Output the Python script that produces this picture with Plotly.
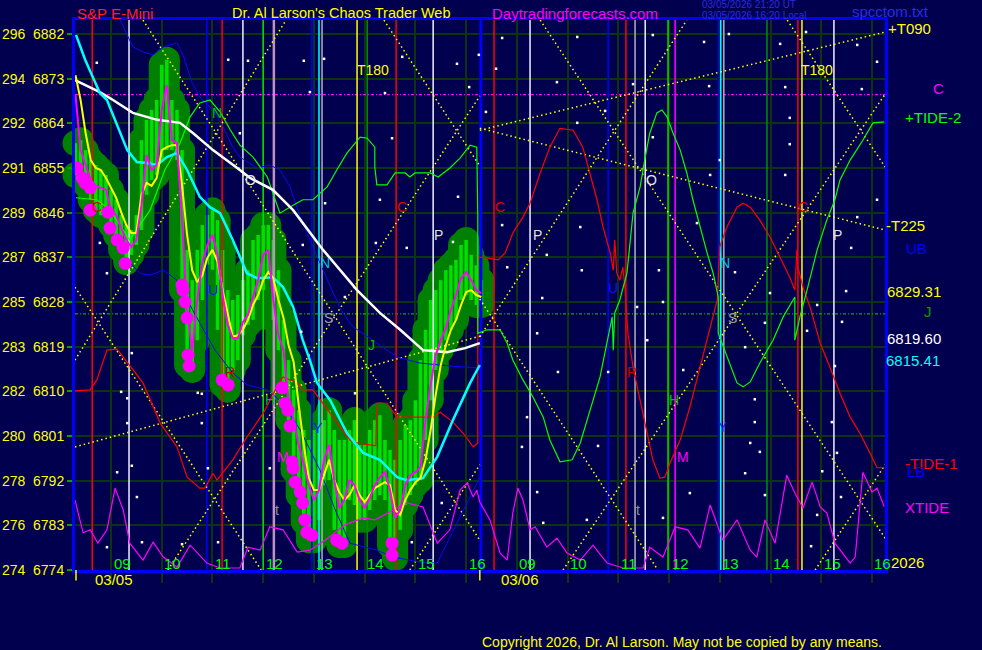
import plotly.graph_objects as go

FONT = "Liberation Sans, Arial, sans-serif"
BG = "#00004f"
GRID = "#0c3410"

# x = session hours: 0 = 09:00 on 03/05 ... 7 = 16:00 ; 8 = 09:00 on 03/06 ... 15 = 16:00
X_MIN, X_MAX = -0.71, 15.257
Y_MIN, Y_MAX = 6774.0, 6884.82

price_ticks = [6774, 6783, 6792, 6801, 6810, 6819, 6828, 6837, 6846, 6855, 6864, 6873, 6882]
alt_ticks = ["274", "276", "278", "280", "282", "283", "285", "287", "289", "291", "292", "294", "296"]
hour_ticks = [0, 1, 2, 3, 4, 5, 6, 7, 8, 9, 10, 11, 12, 13, 14, 15]
hour_labels = ["09", "10", "11", "12", "13", "14", "15", "16", "09", "10", "11", "12", "13", "14", "15", "16"]

# ---- 03/05 bars (every 6 minutes) ----
bar_t = [-0.7, -0.6, -0.5, -0.4, -0.3, -0.2, -0.1, 0.0, 0.1, 0.2, 0.3, 0.4, 0.5, 0.6, 0.7, 0.8, 0.9,
         1.0, 1.1, 1.2, 1.3, 1.4, 1.5, 1.6, 1.7, 1.8, 1.9, 2.0, 2.1, 2.2, 2.3, 2.4, 2.5, 2.6, 2.7, 2.8, 2.9,
         3.0, 3.1, 3.2, 3.3, 3.4, 3.5, 3.6, 3.7, 3.8, 3.9, 4.0, 4.1, 4.2, 4.3, 4.4, 4.5, 4.6, 4.7, 4.8, 4.9,
         5.0, 5.1, 5.2, 5.3, 5.4, 5.5, 5.6, 5.7, 5.8, 5.9, 6.0, 6.1, 6.2, 6.3, 6.4, 6.5, 6.6, 6.7, 6.8, 6.9,
         7.0, 7.1, 7.2, 7.3]
bar_close = [6869.7, 6858.6, 6855.6, 6852.6, 6851.4, 6851.0, 6850.6, 6846.5, 6845.5, 6842.9, 6840.5, 6839.1, 6840.5,
             6847.5, 6857.6, 6854.6, 6855.6, 6866.7, 6871.7, 6860.6, 6860.0, 6844.5, 6826.4, 6818.3, 6828.4, 6836.0,
             6839.5, 6841.5, 6837.5, 6829.4, 6823.4, 6820.7, 6820.7, 6824.0, 6825.4, 6829.0, 6832.4, 6837.5, 6838.5,
             6828.4, 6821.3, 6818.3, 6808.2, 6804.2, 6799.2, 6795.2, 6791.1, 6788.1, 6790.1, 6796.2, 6799.2, 6792.1,
             6786.5, 6788.1, 6792.1, 6791.1, 6788.1, 6786.5, 6788.5, 6791.1, 6792.7, 6793.7, 6790.1, 6784.5, 6786.1,
             6791.1, 6793.1, 6793.7, 6794.7, 6804.2, 6811.3, 6817.3, 6820.3, 6822.8, 6826.4, 6829.4, 6832.8, 6834.0,
             6832.4, 6830.4, 6829.8]
bar_high = [6860.0, 6860.6, 6858.6, 6856.6, 6855.6, 6854.6, 6853.6, 6850.6, 6848.6, 6845.5, 6843.5, 6842.5, 6845.5,
            6860.6, 6864.7, 6866.7, 6868.7, 6875.8, 6876.8, 6868.7, 6866.7, 6858.6, 6838.5, 6832.4, 6838.5, 6843.5,
            6845.5, 6846.5, 6844.5, 6838.5, 6830.4, 6828.4, 6829.4, 6832.4, 6834.4, 6840.5, 6841.5, 6843.5, 6843.5,
            6840.5, 6834.4, 6824.4, 6816.3, 6810.3, 6806.2, 6802.2, 6800.2, 6802.2, 6803.2, 6804.2, 6806.2, 6802.2,
            6800.2, 6800.2, 6802.2, 6804.2, 6799.2, 6799.2, 6802.2, 6804.2, 6805.2, 6800.2, 6798.2, 6796.2, 6800.2,
            6803.2, 6804.2, 6808.2, 6816.3, 6822.4, 6828.4, 6830.4, 6832.4, 6834.4, 6835.4, 6836.5, 6839.5, 6840.5,
            6837.5, 6835.4, 6832.4]
bar_low = [6853.6, 6853.6, 6851.6, 6848.6, 6846.5, 6845.5, 6845.5, 6843.5, 6841.5, 6838.5, 6836.0, 6837.5, 6839.5,
           6842.5, 6849.6, 6852.6, 6853.6, 6856.6, 6858.6, 6858.6, 6856.6, 6830.4, 6815.3, 6814.3, 6820.3, 6828.4,
           6835.5, 6834.5, 6822.4, 6811.3, 6810.3, 6814.3, 6816.3, 6821.3, 6823.4, 6824.4, 6828.4, 6830.4, 6833.4,
           6824.4, 6818.3, 6810.3, 6804.2, 6794.1, 6789.1, 6783.7, 6780.0, 6780.0, 6784.1, 6791.1, 6792.1, 6782.1,
           6779.0, 6779.0, 6788.1, 6787.1, 6784.1, 6784.1, 6786.1, 6788.1, 6789.1, 6788.1, 6779.0, 6776.4, 6782.1,
           6787.1, 6789.1, 6791.1, 6792.1, 6800.2, 6808.2, 6814.3, 6818.3, 6820.3, 6822.4, 6824.4, 6828.4, 6829.4,
           6828.4, 6827.4, 6827.4]
fast_ma = [6873.7, 6868.7, 6862.0, 6856.6, 6855.0, 6854.6, 6853.0, 6851.0, 6849.0, 6846.1, 6843.5, 6841.9, 6841.9,
           6849.6, 6852.0, 6851.4, 6853.0, 6858.6, 6859.2, 6859.6, 6859.6, 6851.6, 6841.5, 6834.4, 6832.0, 6833.4,
           6836.9, 6838.5, 6836.1, 6830.4, 6825.4, 6821.0, 6821.3, 6822.4, 6824.4, 6827.4, 6829.4, 6832.4, 6834.0,
           6832.8, 6828.4, 6824.8, 6819.3, 6815.9, 6807.2, 6799.2, 6792.5, 6790.1, 6790.1, 6793.1, 6796.2, 6792.1,
           6789.7, 6788.1, 6789.1, 6791.1, 6789.1, 6787.7, 6789.1, 6790.5, 6791.1, 6791.7, 6791.1, 6786.1, 6785.1,
           6788.1, 6790.1, 6791.7, 6792.5, 6796.2, 6802.2, 6809.3, 6815.3, 6819.3, 6822.4, 6824.4, 6827.4, 6830.0,
           6830.4, 6829.4, 6829.0]

# cyan and white averages
mid_t = [-0.69, -0.51, -0.22, -0.08, 0.32, 0.51, 0.71, 0.91, 1.10, 1.30, 1.50, 1.75, 1.95, 2.15, 2.40, 2.68, 2.88,
         3.19, 3.39, 3.59, 3.78, 3.92, 4.06, 4.32, 4.65, 4.97, 5.30, 5.64, 5.83, 6.15, 6.43, 6.74, 7.08, 7.27]
mid_ma = [6881.8, 6876.8, 6870.1, 6868.7, 6858.6, 6856.2, 6856.0, 6855.6, 6857.2, 6858.0, 6854.6, 6849.2, 6847.1,
          6845.9, 6840.5, 6833.8, 6832.8, 6833.0, 6831.0, 6827.0, 6820.3, 6816.3, 6811.7, 6808.2, 6801.6, 6797.6,
          6796.2, 6792.7, 6792.1, 6792.5, 6796.8, 6804.2, 6811.7, 6815.3]
slow_t = [-0.71, -0.22, 0.04, 0.43, 0.91, 1.36, 1.62, 2.01, 2.54, 2.74, 3.19, 3.59, 4.18, 4.85, 5.30, 5.70, 6.15,
          6.62, 6.98, 7.27]
slow_ma = [6872.7, 6870.3, 6868.7, 6866.1, 6864.7, 6864.1, 6862.0, 6858.6, 6854.6, 6853.0, 6850.6, 6846.5, 6838.5,
           6830.4, 6825.8, 6822.4, 6818.3, 6817.9, 6818.7, 6819.7]

# bands
ub_t = [0.18, 0.43, 0.63, 0.83, 1.03, 1.30, 1.42, 1.60, 1.75, 2.01, 2.21, 2.40, 2.54, 2.88, 3.13, 3.33, 3.53, 3.73,
        3.98, 4.18, 4.38, 4.57, 4.77, 5.16, 5.64, 6.09, 6.68, 7.27]
ub_p = [6884.8, 6879.4, 6878.4, 6877.8, 6879.4, 6880.2, 6877.8, 6872.1, 6869.3, 6866.7, 6863.3, 6859.2, 6857.2,
        6855.0, 6855.6, 6854.6, 6851.2, 6845.1, 6839.1, 6834.4, 6829.8, 6825.8, 6823.0, 6820.3, 6816.9, 6815.7,
        6815.1, 6814.7]
lb_t = [0.28, 0.37, 0.57, 0.77, 1.03, 1.30, 1.66, 2.05, 2.40, 2.68, 3.08, 3.39, 3.73, 4.12, 4.42, 4.71, 5.24, 5.56,
        6.09, 6.43, 6.82, 7.27]
lb_p = [6836.9, 6835.9, 6833.8, 6833.4, 6834.4, 6832.4, 6825.4, 6818.3, 6813.7, 6811.3, 6810.3, 6807.6, 6802.2,
        6794.1, 6786.1, 6779.4, 6778.0, 6776.6, 6775.6, 6775.4, 6783.5, 6792.7]

# tides
tide1_t = [-0.71, -0.41, -0.28, -0.08, 0.12, 0.43, 0.63, 0.97, 1.30, 1.50, 1.75, 1.85, 2.01, 2.09, 2.40, 2.68, 3.00,
           3.27, 3.39, 3.67, 3.78, 3.98, 4.38, 4.71, 4.85, 5.22, 5.24, 5.44, 5.64, 6.35, 6.49, 6.74, 6.94, 7.14, 7.23,
           7.23, 7.41, 7.63, 7.77, 7.92, 8.12, 8.26, 8.46, 8.65, 8.85, 9.11, 9.30, 9.44, 9.58, 9.70, 9.84, 9.90, 9.93,
           9.97, 10.03, 10.09, 10.13, 10.19, 10.29, 10.43, 10.57, 10.68, 10.82, 10.92, 11.02, 11.22, 11.41, 11.61,
           11.81, 11.95, 12.00, 12.14, 12.34, 12.46, 12.60, 12.79, 12.99, 13.19, 13.38, 13.48, 13.52, 13.54, 13.64,
           13.78, 13.98, 14.17, 14.37, 14.57, 14.76, 14.96, 15.10, 15.24]
tide1_p = [6810.1, 6810.3, 6812.3, 6818.3, 6818.5, 6814.3, 6811.7, 6803.6, 6798.8, 6792.7, 6790.5, 6790.5, 6793.5,
           6792.1, 6796.2, 6800.8, 6805.6, 6810.9, 6812.9, 6811.7, 6810.3, 6810.3, 6804.8, 6800.2, 6799.6, 6799.0,
           6807.6, 6807.6, 6804.8, 6804.8, 6805.8, 6803.8, 6801.6, 6798.8, 6799.6, 6837.1, 6836.9, 6836.5, 6837.9,
           6841.9, 6845.1, 6847.9, 6854.0, 6859.2, 6863.0, 6862.6, 6859.2, 6854.0, 6848.6, 6843.1, 6837.9, 6834.4,
           6840.5, 6833.8, 6832.4, 6835.0, 6831.0, 6821.7, 6814.9, 6808.2, 6801.6, 6796.2, 6792.5, 6792.7, 6795.6,
           6800.2, 6806.8, 6814.9, 6823.0, 6828.4, 6839.1, 6843.1, 6847.1, 6847.9, 6847.1, 6844.5, 6841.1, 6837.1,
           6833.0, 6830.4, 6838.5, 6835.0, 6831.0, 6827.0, 6819.7, 6814.9, 6809.6, 6804.8, 6801.6, 6797.6, 6794.6,
           6794.6]
tide2_t = [-0.69, -0.28, -0.02, 0.37, 0.77, 1.06, 1.36, 1.56, 1.75, 1.95, 2.15, 2.35, 2.54, 2.80, 3.08, 3.33, 3.59,
           3.78, 3.98, 4.26, 4.45, 4.65, 4.91, 5.05, 5.20, 5.20, 5.24, 5.44, 5.60, 5.80, 5.89, 5.99, 6.29, 6.45, 6.68,
           6.88, 7.08, 7.21, 7.23, 7.23, 7.41, 7.67, 7.81, 7.92, 8.12, 8.32, 8.52, 8.65, 8.85, 9.09, 9.25, 9.44, 9.64,
           9.80, 9.88, 9.90, 9.93, 10.03, 10.17, 10.29, 10.43, 10.53, 10.62, 10.76, 10.86, 10.96, 11.08, 11.22, 11.35,
           11.47, 11.61, 11.75, 11.87, 11.97, 11.97, 12.14, 12.34, 12.46, 12.60, 12.79, 13.05, 13.25, 13.48, 13.48,
           13.58, 13.72, 13.92, 14.11, 14.27, 14.37, 14.57, 14.82, 15.02, 15.24]
tide2_p = [6849.0, 6848.6, 6846.5, 6840.5, 6846.5, 6854.6, 6860.0, 6865.3, 6868.1, 6868.7, 6866.3, 6862.7, 6859.6,
           6857.2, 6853.2, 6845.9, 6847.5, 6848.6, 6848.6, 6851.2, 6854.6, 6858.0, 6861.2, 6861.0, 6859.2, 6855.2,
           6851.6, 6851.6, 6854.0, 6854.0, 6853.2, 6854.0, 6854.0, 6853.2, 6855.0, 6857.0, 6859.6, 6859.2, 6845.3,
           6821.7, 6822.4, 6822.4, 6819.7, 6816.3, 6812.3, 6808.8, 6804.8, 6800.2, 6795.8, 6796.2, 6799.6, 6806.2,
           6812.9, 6821.0, 6825.0, 6818.3, 6825.8, 6828.4, 6833.8, 6845.9, 6851.2, 6857.2, 6862.0, 6866.1, 6866.7,
           6865.3, 6862.0, 6858.6, 6854.0, 6848.6, 6843.1, 6837.9, 6833.8, 6829.0, 6821.7, 6816.9, 6811.7, 6810.9,
           6811.9, 6815.7, 6820.3, 6825.0, 6829.0, 6820.3, 6825.0, 6830.4, 6838.5, 6844.5, 6848.6, 6852.6, 6856.6,
           6860.6, 6864.1, 6864.3]
xtide_t = [-0.71, -0.55, -0.41, -0.26, -0.08, 0.08, 0.24, 0.37, 0.63, 0.83, 1.03, 1.30, 1.56, 1.89, 2.15, 2.54, 2.70,
           2.94, 3.13, 3.39, 3.67, 3.92, 4.22, 4.61, 4.97, 5.20, 5.83, 6.15, 6.43, 6.68, 6.88, 7.02, 7.14, 7.21, 7.27,
           7.47, 7.67, 7.81, 7.92, 8.02, 8.12, 8.26, 8.36, 8.59, 8.79, 8.99, 9.25, 9.50, 9.78, 10.09, 10.49, 10.62,
           10.88, 11.12, 11.37, 11.61, 11.81, 12.06, 12.34, 12.60, 12.73, 12.89, 13.09, 13.32, 13.48, 13.64, 13.82,
           13.98, 14.11, 14.27, 14.57, 14.67, 14.82, 15.00, 15.10, 15.24]
xtide_p = [6788.1, 6781.5, 6782.1, 6779.4, 6782.1, 6790.5, 6786.1, 6779.4, 6776.0, 6779.6, 6776.6, 6774.6, 6779.0,
           6775.4, 6774.4, 6774.4, 6778.6, 6778.0, 6782.7, 6782.1, 6777.6, 6778.0, 6780.0, 6783.1, 6784.5, 6784.1,
           6787.5, 6786.7, 6779.4, 6782.1, 6790.1, 6791.5, 6788.7, 6790.1, 6787.7, 6784.1, 6777.4, 6776.0, 6785.5,
           6790.5, 6788.1, 6782.1, 6782.7, 6778.6, 6780.4, 6777.4, 6776.0, 6779.0, 6775.4, 6774.4, 6774.4, 6778.6,
           6776.6, 6782.7, 6782.1, 6778.4, 6787.1, 6780.0, 6784.1, 6778.0, 6776.6, 6784.1, 6779.4, 6793.1, 6789.5,
           6786.5, 6791.7, 6786.7, 6785.5, 6779.4, 6775.4, 6776.6, 6793.7, 6789.7, 6790.5, 6786.8]

# big magenta dots
dot_t = [-0.67, -0.57, -0.51, -0.41, -0.41, -0.06, -0.02, 0.12, 0.24, 0.28, 1.40, 1.42, 1.46, 1.50, 1.52, 1.54,
         2.19, 2.31, 3.37, 3.43, 3.49, 3.53, 3.57, 3.59, 3.63, 3.73, 3.78, 3.82, 3.86, 3.96, 4.45, 4.55, 5.54, 5.54]
dot_p = [6855.0, 6853.0, 6852.0, 6851.0, 6846.5, 6846.1, 6842.9, 6840.5, 6838.9, 6835.8, 6831.4, 6830.4, 6828.0,
         6824.8, 6817.3, 6815.1, 6812.3, 6811.3, 6810.7, 6807.6, 6806.2, 6803.0, 6795.8, 6794.5, 6791.7, 6789.7,
         6787.5, 6784.1, 6781.6, 6781.0, 6780.0, 6779.4, 6779.4, 6777.0]

# dotted yellow angle lines (start time, start price, end time, end price)
ang_t0 = [-0.71, 0.63, -0.71, 1.12, 5.38, 5.89, -0.71, 7.27, 7.27, 8.46, 7.27, 7.27, 8.91, 13.33, 13.88]
ang_p0 = [6816.3, 6884.8, 6831.0, 6774.0, 6884.8, 6774.0, 6798.8, 6862.6, 6863.0, 6884.8, 6821.0, 6828.6, 6774.0,
          6884.8, 6774.0]
ang_t1 = [3.45, 7.27, 2.96, 7.27, 7.27, 7.27, 7.27, 15.26, 15.26, 15.26, 11.35, 10.78, 15.26, 15.26, 15.26]
ang_p1 = [6884.8, 6780.0, 6774.0, 6869.5, 6855.4, 6795.2, 6821.1, 6882.4, 6842.5, 6780.4, 6884.8, 6774.0, 6869.9,
          6855.2, 6795.2]
level_c = 6869.8
level_j = 6825.6

# vertical time lines
vl_red = [-0.37, 2.19, 5.62, 7.55, 10.15, 13.54]
vl_white = [0.355, 2.60, 6.35, 8.26, 10.53, 14.25]
vl_blue = [1.89, 3.96, 9.80, 11.97]
vl_green = [3.00, 10.98]
vl_dkgreen = [5.05, 12.93]
vl_cyan = [4.10, 12.02]
vl_grey = [4.16, 10.33, 12.08]
vl_violet = [3.21]
vl_magenta = [11.12]
vl_yellow = [4.85, 13.62]
day_break = 7.29

# small white stars
star_t = [-0.28, 2.31, 2.70, 3.80, 4.20, 5.74, 6.82, 7.25, 3.92, 5.40, 7.71, 7.59, 9.19, 8.79, 10.68, 11.69, 12.18,
          11.79, 13.19, 13.70, 14.71, 15.10, 13.29, 14.80, 4.22, 5.30, 5.54, 7.06, 6.84, 6.74, 5.83, 5.22, 3.78, 3.75,
          4.61, 7.39, 9.19, 9.74, 10.29, 10.68, 12.00, 11.81, 9.25, 8.59, 7.71, 7.81, 8.50, 9.28, 10.80, 10.88, 11.55,
          12.30, 8.40, 8.10, 8.20, 8.81, 9.80, 9.60, 9.38, 8.52, 11.28, 11.41, 10.88, 10.57, 10.37, 8.40, 14.71, 14.59,
          14.49, 13.92, 13.72, 14.41, 12.99, 12.89, 12.50, 14.27, 12.69, 12.69, 12.60, 12.79, 12.50, 12.89, 14.02,
          14.21, 14.31, 14.39, 13.92, 13.80, 13.38, 13.38, 13.29, 15.10, 0.41, 0.20, 0.32, 0.32, 0.51, 0.41, 0.12,
          -0.08, 0.61, 1.40, 1.71, 1.79, 1.79, 1.91, 2.11, -0.22, -0.08, 2.54, 3.13, 4.81, 5.93, 6.52]
star_p = [6876.2, 6876.8, 6876.6, 6876.6, 6877.0, 6877.4, 6876.0, 6877.8, 6870.3, 6870.1, 6881.2, 6875.0, 6881.4,
          6872.3, 6881.8, 6880.4, 6882.0, 6871.5, 6880.0, 6882.4, 6879.8, 6876.4, 6871.3, 6870.9, 6847.9, 6848.6,
          6861.0, 6871.3, 6849.2, 6840.1, 6838.9, 6839.9, 6839.5, 6822.0, 6829.0, 6866.3, 6864.1, 6866.5, 6871.9,
          6861.2, 6856.6, 6853.6, 6843.1, 6837.5, 6843.5, 6835.0, 6828.8, 6834.4, 6834.4, 6828.0, 6843.9, 6834.0,
          6789.7, 6798.8, 6804.8, 6813.9, 6813.9, 6799.0, 6784.1, 6783.5, 6814.3, 6789.5, 6784.5, 6820.3, 6827.0,
          6821.7, 6845.1, 6838.9, 6830.2, 6827.4, 6822.2, 6824.0, 6829.8, 6823.8, 6818.9, 6815.1, 6808.4, 6803.8,
          6799.6, 6797.8, 6793.5, 6789.1, 6793.9, 6803.8, 6797.6, 6788.7, 6785.1, 6778.8, 6865.1, 6859.8, 6853.6,
          6848.6, 6817.7, 6809.9, 6808.6, 6803.6, 6788.7, 6795.0, 6793.7, 6778.6, 6779.6, 6779.2, 6809.7, 6809.5,
          6803.6, 6794.5, 6779.6, 6839.9, 6833.8, 6862.0, 6794.5, 6809.6, 6779.6, 6787.5]

# chart-event letters: (text, time, price, colour)
event_labels = [
    ("T180", 5.16, 6874.7, "#ffff00"), ("T180", 13.92, 6874.7, "#ffff00"),
    ("N", 2.09, 6866.1, "#00c000"), ("N", 4.22, 6835.9, "#00c8c8"), ("N", 12.11, 6835.9, "#00c8c8"),
    ("O", 2.74, 6852.6, "#e8e8e8"), ("O", 10.66, 6852.6, "#e8e8e8"),
    ("S", 4.28, 6824.8, "#a0a0a0"), ("S", 12.26, 6824.8, "#a0a0a0"),
    ("J", 5.13, 6819.3, "#00c000"),
    ("P", 6.45, 6841.5, "#e0e0e0"), ("P", 8.40, 6841.5, "#e0e0e0"), ("P", 14.33, 6841.5, "#e0e0e0"),
    ("C", 5.74, 6847.1, "#e00000"), ("C", 7.67, 6847.1, "#e00000"), ("C", 13.64, 6847.1, "#e00000"),
    ("C", -0.28, 6847.1, "#e00000"),
    ("M", 3.39, 6796.8, "#ff00ff"), ("M", 11.28, 6796.8, "#ff00ff"),
    ("H", 3.13, 6808.2, "#00c000"), ("H", 11.10, 6808.2, "#00c000"),
    ("t", 3.27, 6786.1, "#909090"), ("t", 10.39, 6786.1, "#909090"),
    ("R", 2.35, 6813.9, "#c00000"), ("R", 10.27, 6813.9, "#c00000"),
    ("U", 2.01, 6830.4, "#1010ff"), ("U", 9.90, 6830.8, "#1010ff"),
    ("Y", 4.08, 6802.6, "#1010ff"), ("Y", 12.06, 6802.8, "#1010ff"),
]

# right-margin texts: (text, colour, left pixel, middle pixel)
right_labels = [
    ("+T090", "#ffff00", 886, 29), ("C", "#ff00ff", 931, 88), ("+TIDE-2", "#00ff00", 903, 117),
    ("-T225", "#ffff00", 884, 226), ("UB", "#0000ff", 904, 248), ("6829.31", "#ffff00", 885, 291),
    ("J", "#00a000", 922, 311), ("6819.60", "#ffffff", 885, 338), ("6815.41", "#00ffff", 884, 360),
    ("-TIDE-1", "#ff0000", 903, 463), ("LB", "#0000ff", 905, 471), ("XTIDE", "#ff00ff", 903, 507),
    ("2026", "#ffff00", 889, 562),
]

PL, PR, PT, PB = 75, 885, 20, 570


def px_x(px):
    return (px - PL) / (PR - PL)


def px_y(py):
    return (PB - py) / (PB - PT)


fig = go.Figure()


def add_line(x, y, color, width, dash=None, mode="lines"):
    fig.add_trace(go.Scatter(x=x, y=y, mode=mode, hoverinfo="skip", showlegend=False,
                             line=dict(color=color, width=width, dash=dash)))


def seg(t0, p0, t1, p1):
    xs, ys = [], []
    for a, b, c, d in zip(t0, p0, t1, p1):
        xs += [a, c, None]
        ys += [b, d, None]
    return xs, ys


def vlines(ts):
    xs, ys = [], []
    for t in ts:
        xs += [t, t, None]
        ys += [Y_MIN, Y_MAX, None]
    return xs, ys


# horizontal levels
add_line([X_MIN, X_MAX], [level_c, level_c], "#ff00ff", 1.3, "3px,2px,1px,2px")
add_line([X_MIN, X_MAX], [level_j, level_j], "#00b000", 1.3, "3px,2px,1px,2px")

# price blob (dark green halo) and bright bars
bx, by = seg(bar_t, bar_low, bar_t, bar_high)
add_line(bx, by, "#008000", 26)
fig.add_trace(go.Scatter(x=bar_t + bar_t, y=bar_low + bar_high, mode="markers", hoverinfo="skip",
                         showlegend=False, cliponaxis=False,
                         marker=dict(color="#008000", size=26, line=dict(width=0))))
add_line(bx, by, "#00e000", 3.5)

# vertical event lines
for ts, col, w in [(vl_red, "#ff0000", 1.5), (vl_white, "#f0f0ff", 1.5), (vl_blue, "#0000ff", 1.5),
                   (vl_green, "#00e000", 1.5), (vl_dkgreen, "#009000", 1.5), (vl_cyan, "#00ffff", 1.5),
                   (vl_grey, "#b0b0c0", 1.5), (vl_violet, "#c090c0", 2.5), (vl_magenta, "#ff00ff", 1.5),
                   (vl_yellow, "#ffff00", 1.5), ([day_break], "#0000ff", 3)]:
    vx, vy = vlines(ts)
    add_line(vx, vy, col, w)

# angle lines
ax_, ay_ = seg(ang_t0, ang_p0, ang_t1, ang_p1)
add_line(ax_, ay_, "#ffff00", 1.5, "1.5px,3px")

# bands and tides
add_line(ub_t, ub_p, "#0a0af0", 1)
add_line(lb_t, lb_p, "#0a0af0", 1)
add_line(tide1_t, tide1_p, "#ff0000", 1.2)
add_line(tide2_t, tide2_p, "#00ff00", 1.2)
add_line(xtide_t, xtide_p, "#ff00ff", 1.2)

# averages and price
add_line(slow_t, slow_ma, "#ffffff", 2.5)
add_line(mid_t, mid_ma, "#00ffff", 2.5)
add_line(bar_t, fast_ma, "#ffff00", 2)
add_line(bar_t, bar_close, "#ff00ff", 2)
fig.add_trace(go.Scatter(x=dot_t, y=dot_p, mode="markers", hoverinfo="skip", showlegend=False,
                         marker=dict(color="#ff00ff", size=13, line=dict(width=0))))
fig.add_trace(go.Scatter(x=star_t, y=star_p, mode="markers", hoverinfo="skip", showlegend=False,
                         marker=dict(color="#ffffff", size=2.5, symbol="square", line=dict(width=0))))

ann = []
for txt, t, p, col in event_labels:
    ann.append(dict(x=t, y=p, xref="x", yref="y", text=txt, showarrow=False,
                    font=dict(family=FONT, size=14, color=col)))
for h, lab in zip(hour_ticks, hour_labels):
    ann.append(dict(x=h, y=6775.4, xref="x", yref="y", text=lab, showarrow=False, xshift=11,
                    font=dict(family=FONT, size=15, color="#00ff00")))
for txt, col, x0, y0 in right_labels:
    ann.append(dict(x=px_x(x0), y=px_y(y0), xref="paper", yref="paper", text=txt, showarrow=False,
                    xanchor="left", yanchor="middle", font=dict(family=FONT, size=15, color=col)))
top = [("S&P E-Mini", "#ff2020", 75, 13, 15), ("Dr. Al Larson's Chaos Trader Web", "#ffff00", 230, 13, 14.5),
       ("Daytradingforecasts.com", "#ff00ff", 490, 13, 15), ("03/05/2026 21:20 UT", "#2a2ae6", 700, 4.5, 10),
       ("03/05/2026 16:20 Local", "#2a2ae6", 700, 15, 10), ("spcctom.txt", "#2a2ae6", 850, 12, 15),
       ("Copyright 2026, Dr. Al Larson. May not be copied by any means.", "#ffff00", 480, 642, 14)]
for txt, col, x0, y0, sz in top:
    ann.append(dict(x=px_x(x0), y=px_y(y0), xref="paper", yref="paper", text=txt, showarrow=False,
                    xanchor="left", yanchor="middle", font=dict(family=FONT, size=sz, color=col)))
for txt, x0 in [("03/05", 114), ("03/06", 520)]:
    ann.append(dict(x=px_x(x0), y=px_y(579), xref="paper", yref="paper", text=txt, showarrow=False,
                    xanchor="center", yanchor="middle", font=dict(family=FONT, size=15, color="#ffff00")))

shapes = []
for t in [-0.69, 7.27]:
    shapes.append(dict(type="line", xref="x", yref="paper", x0=t, x1=t, y0=-0.019, y1=0,
                       line=dict(color="#ffff00", width=1.5)))

fig.update_layout(
    width=982, height=650, autosize=False,
    margin=dict(l=PL, r=982 - PR, t=PT, b=650 - PB, pad=0),
    paper_bgcolor=BG, plot_bgcolor=BG,
    showlegend=False,
    annotations=ann, shapes=shapes,
    xaxis=dict(range=[X_MIN, X_MAX], tickvals=hour_ticks, showticklabels=False, ticks="outside",
               ticklen=10, tickcolor=GRID, tickwidth=1.5, showgrid=True, gridcolor=GRID, gridwidth=1.5,
               zeroline=False, showline=True, linecolor="#0000ff", linewidth=3, mirror=True,
               fixedrange=True, automargin=False),
    yaxis=dict(range=[Y_MIN, Y_MAX], tickvals=price_ticks,
               ticktext=[a + "\u00a0\u00a0" + str(p) for a, p in zip(alt_ticks, price_ticks)],
               ticks="outside", ticklen=5, tickcolor="#00a000", tickwidth=1.5,
               tickfont=dict(family=FONT, size=14, color="#ffff00"),
               showgrid=True, gridcolor=GRID, gridwidth=1.5, zeroline=False,
               showline=True, linecolor="#0000ff", linewidth=3, mirror=True,
               fixedrange=True, automargin=False),
)

fig.write_html("out.html", config={"displayModeBar": False},
               post_script="document.body.style.margin='0';document.body.style.overflow='hidden';")
